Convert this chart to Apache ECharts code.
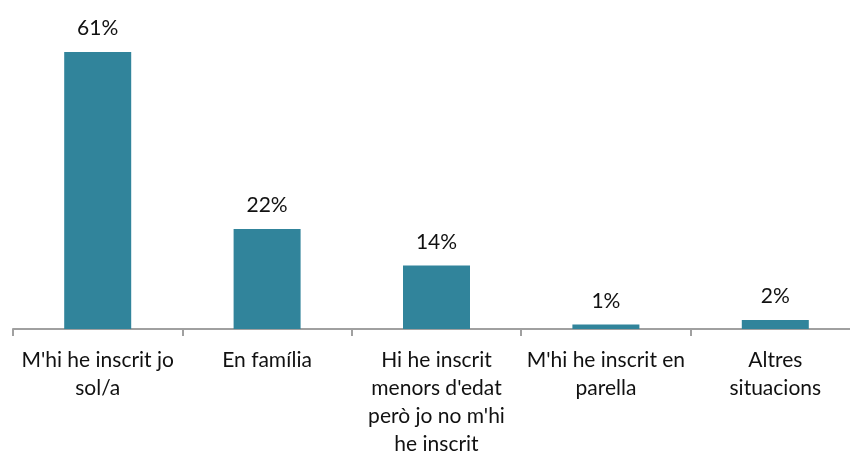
<!DOCTYPE html>
<html>
<head>
<meta charset="utf-8">
<script src="https://cdn.jsdelivr.net/npm/echarts@6/dist/echarts.min.js"></script>
<style>
  html, body { margin: 0; padding: 0; background: #fff; }
  #chart { width: 850px; height: 454px; }
</style>
</head>
<body>
<div id="chart"></div>
<script>
// categories and shares (%)
const categories = [
  "M'hi he inscrit jo\nsol/a",
  'En família',
  "Hi he inscrit\nmenors d'edat\nperò jo no m'hi\nhe inscrit",
  "M'hi he inscrit en\nparella",
  'Altres\nsituacions'
]
const shares = [61, 22, 14, 1, 2]

const chart = echarts.init(document.getElementById('chart'))
const font = 'Lato, "Open Sans", sans-serif'

chart.setOption({
  animation: false,
  grid: { left: 13, width: 847, top: 11, bottom: 125, outerBoundsMode: 'none', containLabel: false },
  xAxis: {
    type: 'category',
    data: categories,
    axisLine: { lineStyle: { color: '#a0a0a0', width: 2 } },
    axisTick: { show: true, length: 7, lineStyle: { color: '#a0a0a0', width: 2 } },
    axisLabel: {
      interval: 0,
      color: '#111',
      fontFamily: font,
      fontSize: 21,
      lineHeight: 28,
      margin: 17,
      // center every line of the wrapped label
      formatter: (v) => v.split('\n').map(s => '{c|' + s + '}').join('\n'),
      rich: {
        c: {
          width: 169,
          align: 'center',
          color: '#111',
          fontFamily: font,
          fontSize: 21,
          lineHeight: 28
        }
      }
    }
  },
  yAxis: {
    type: 'value',
    min: 0,
    max: 70,
    show: false,
    splitLine: { show: false }
  },
  series: [{
    type: 'bar',
    data: shares,
    barWidth: 67,
    itemStyle: { color: '#31849b' },
    label: {
      show: true,
      position: 'top',
      distance: 13,
      formatter: '{c}%',
      color: '#111',
      fontFamily: font,
      fontSize: 21
    }
  }]
})
</script>
</body>
</html>
